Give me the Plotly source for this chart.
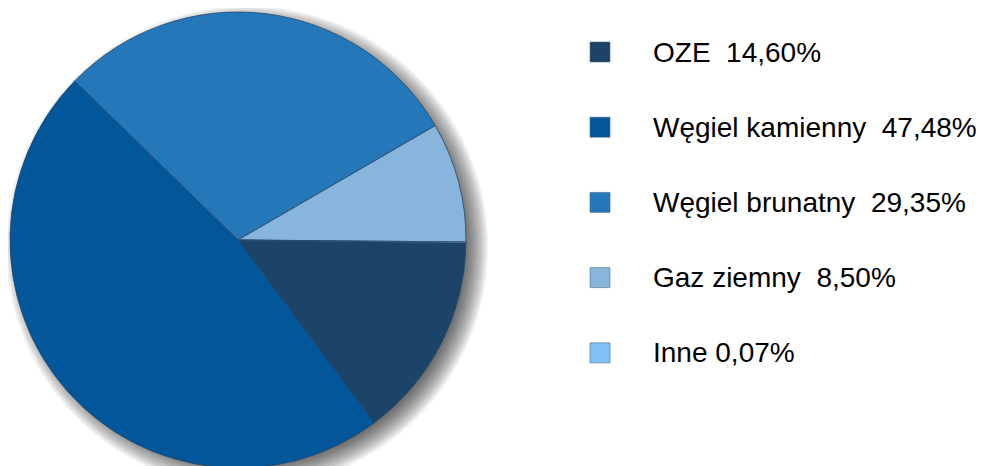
import plotly.graph_objects as go

# ---- data ----
labels = ["OZE", "Węgiel kamienny", "Węgiel brunatny", "Gaz ziemny", "Inne"]
shares = [14.60, 47.48, 29.35, 8.50, 0.07]
legend_texts = ["OZE\u00a0\u00a014,60%", "Węgiel kamienny\u00a0\u00a047,48%",
                "Węgiel brunatny\u00a0\u00a029,35%", "Gaz ziemny\u00a0\u00a08,50%",
                "Inne 0,07%"]
colors = ["#1c4468", "#02569a", "#2478ba", "#88b5db", "#7fc2f5"]

W, H = 984, 466
PAD = 8  # page body margin
# pie geometry (page pixels -> figure pixels)
cx, cy, R = 238 - PAD, 240 - PAD, 228

fig = go.Figure()
fig.add_trace(go.Pie(
    labels=labels, values=shares, sort=False, direction="clockwise",
    rotation=90.75, textinfo="none", hoverinfo="label+percent",
    marker=dict(colors=colors, line=dict(color="#26486a", width=0.8)),
    domain=dict(x=[(cx - R) / W, (cx + R) / W], y=[(H - cy - R) / H, (H - cy + R) / H]),
    showlegend=False,
))

shapes = []
# soft drop shadow
off_x, off_y, blur = 9, 7, 13
n = 14
for i in range(n):
    r = R + blur - i * (2 * blur / n)
    shapes.append(dict(
        type="circle", xref="paper", yref="paper", layer="below",
        x0=(cx + off_x - r) / W, x1=(cx + off_x + r) / W,
        y0=(H - cy - off_y - r) / H, y1=(H - cy - off_y + r) / H,
        fillcolor="rgba(0,0,0,0.058)", line=dict(width=0),
    ))

annotations = []
leg_x, leg_y0, leg_dy, sq = 590 - PAD, 52 - PAD, 75.2, 20
text_x = 653 - PAD
for i, (txt, col) in enumerate(zip(legend_texts, colors)):
    yc = leg_y0 + i * leg_dy
    shapes.append(dict(
        type="rect", xref="paper", yref="paper", layer="above",
        x0=leg_x / W, x1=(leg_x + sq) / W,
        y0=(H - yc - sq / 2) / H, y1=(H - yc + sq / 2) / H,
        fillcolor=col, line=dict(color="#4a6a8a", width=0.6),
    ))
    annotations.append(dict(
        x=(text_x - 2) / W, y=(H - yc) / H, xref="paper", yref="paper",
        xanchor="left", yanchor="middle", text=txt, showarrow=False,
        font=dict(family="Liberation Sans, Arial", size=28, color="#000000"),
    ))

fig.update_layout(
    width=W, height=H, margin=dict(l=0, r=0, t=0, b=0),
    paper_bgcolor="white", plot_bgcolor="white",
    shapes=shapes, annotations=annotations,
)
fig.write_html("out.html")
